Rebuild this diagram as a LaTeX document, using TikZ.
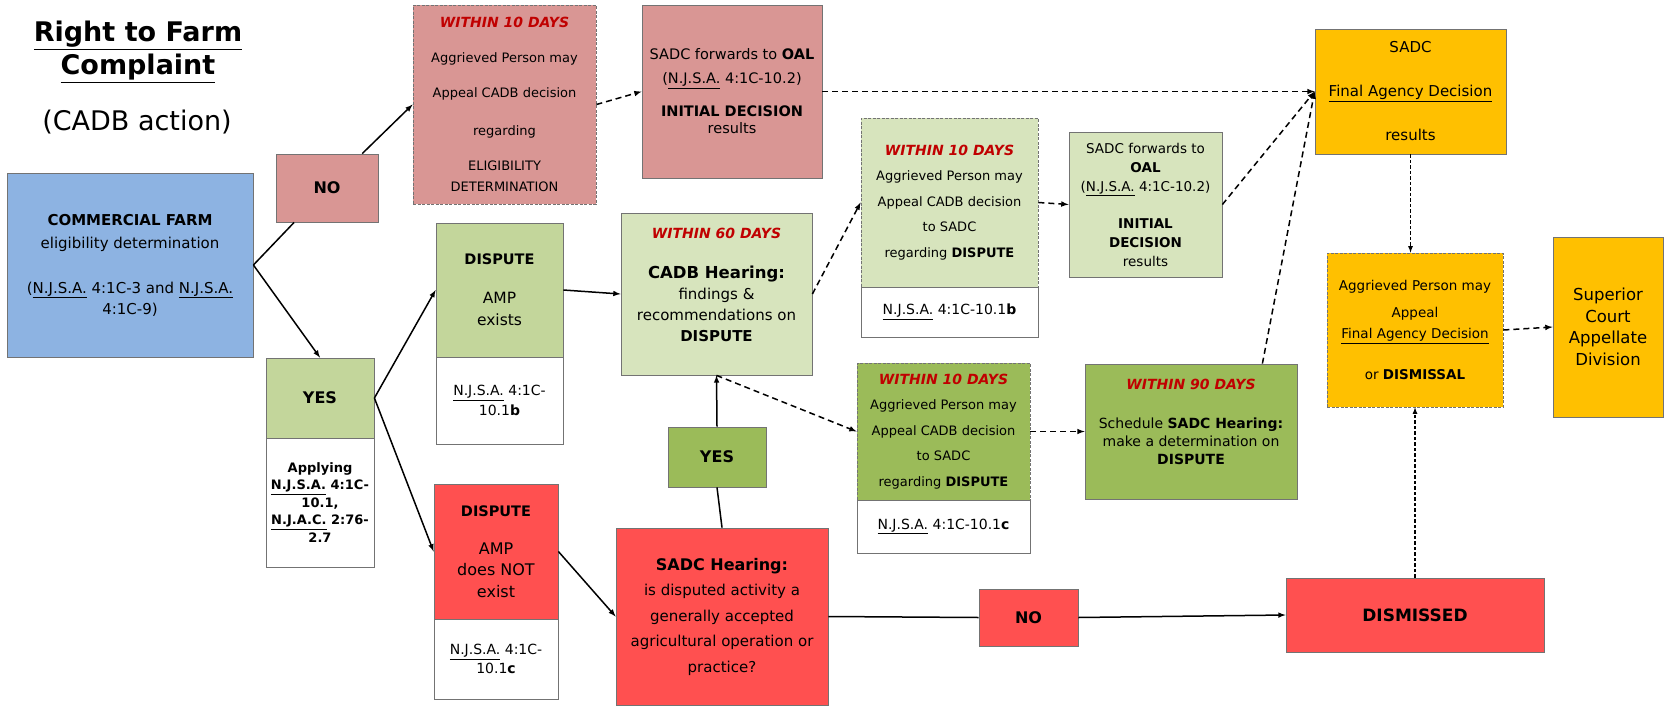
\documentclass[tikz,border=0pt]{standalone}
\usepackage{fontspec}
\setmainfont{DejaVu Sans}
\definecolor{cfblue}{HTML}{8DB3E2}
\definecolor{rose}{HTML}{D99694}
\definecolor{palegreen}{HTML}{D7E4BD}
\definecolor{sagegreen}{HTML}{C3D69B}
\definecolor{olivegreen}{HTML}{9BBB59}
\definecolor{brightred}{HTML}{FF5050}
\definecolor{amber}{HTML}{FFC000}
\definecolor{deadline}{HTML}{C00000}
\newcommand{\fs}[2]{\fontsize{#1}{#2}\selectfont}
\newcommand{\within}[1]{{\fs{14}{14}\color{deadline}\bfseries\itshape WITHIN #1 DAYS}}

\begin{document}
\begin{tikzpicture}[x=1pt, y=-1pt]
\tikzset{box/.style = {draw=black!55, line width=0.8pt, align=center, inner sep=1pt}}
\tikzset{dbox/.style = {box, dash pattern=on 3pt off 1.5pt}}
\tikzset{edge/.style = {-latex, line width=1.5pt}}
\tikzset{link/.style = {-, line width=1.5pt}}
\tikzset{dedge/.style = {-latex, line width=1.5pt, dash pattern=on 6pt off 4pt}}
\tikzset{fedge/.style = {-latex, line width=1.2pt, dash pattern=on 3.5pt off 2pt}}
\useasboundingbox (0,0) rectangle (1665,707);

% title
\node[align=center, font=\fs{27}{33}\bfseries](title) at (138,52) {\underline{Right to Farm}\\\underline{Complaint}};
\node[font=\fs{27}{33}](sub) at (137,122) {(CADB action)};

% eligibility branch
\node[box, fill=cfblue, minimum width=246pt, minimum height=184pt, font=\fs{15}{21}](cf) at (130,265) {\textbf{COMMERCIAL FARM}\\[2pt] eligibility determination\\[24pt] (\underline{N.J.S.A.} 4:1C-3 and \underline{N.J.S.A.}\\ 4:1C-9)};
\node[box, fill=rose, minimum width=102pt, minimum height=68pt, font=\fs{16}{20}\bfseries](no1) at (327,188) {NO};
\node[dbox, fill=rose, minimum width=183pt, minimum height=199pt, font=\fs{13}{35}](w10r) at (504.5,104.5) {\within{10}\\ Aggrieved Person may\\ Appeal CADB decision\\[3pt] regarding\\ ELIGIBILITY\\[-14pt] DETERMINATION};
\node[box, fill=rose, minimum width=180pt, minimum height=173pt, font=\fs{14.5}{17}](oalr) at (732,91.5) {SADC forwards to \textbf{OAL}\\[7pt] (\underline{N.J.S.A.} 4:1C-10.2)\\[16pt] \textbf{INITIAL DECISION}\\ results};
\node[box, fill=amber, minimum width=191pt, minimum height=125pt, font=\fs{15}{44}](final) at (1410.5,91.5) {SADC\\ \underline{Final Agency Decision}\\ results};

% dispute, AMP exists
\node[box, fill=sagegreen, minimum width=108pt, minimum height=80pt, font=\fs{16}{20}\bfseries](yes1) at (320,398) {YES};
\node[box, fill=white, minimum width=108pt, minimum height=129pt, font=\fs{13}{17.5}\bfseries](apply) at (320,502.5) {Applying\\ \underline{N.J.S.A.} 4:1C-\\ 10.1,\\ \underline{N.J.A.C.} 2:76-\\ 2.7};
\node[box, fill=sagegreen, minimum width=127pt, minimum height=134pt, font=\fs{15.5}{22}](ampex) at (499.5,290) {{\fs{14.5}{22}\textbf{DISPUTE}}\\[17pt] AMP\\ exists};
\node[box, fill=white, minimum width=127pt, minimum height=87pt, font=\fs{14}{20}](njsab2) at (499.5,400.5) {\underline{N.J.S.A.} 4:1C-\\ 10.1\textbf{b}};
\node[box, fill=palegreen, minimum width=191pt, minimum height=162pt, font=\fs{15}{21}](cadb) at (716.5,294) {\within{60}\\[19pt] {\fs{16.5}{21}\textbf{CADB Hearing:}}\\ findings \&\\ recommendations on\\ \textbf{DISPUTE}\\[-3pt]\mbox{}};
\node[dbox, fill=palegreen, minimum width=177pt, minimum height=169pt, font=\fs{13}{25.5}](w10t) at (949.5,202.5) {\within{10}\\ Aggrieved Person may\\ Appeal CADB decision\\ to SADC\\ regarding \textbf{DISPUTE}};
\node[box, fill=white, minimum width=177pt, minimum height=50pt, font=\fs{14}{18}](njsab1) at (949.5,312) {\underline{N.J.S.A.} 4:1C-10.1\textbf{b}};
\node[box, fill=palegreen, minimum width=153pt, minimum height=145pt, font=\fs{13.5}{19}](oalg) at (1145.5,204.5) {SADC forwards to\\ \textbf{OAL}\\ (\underline{N.J.S.A.} 4:1C-10.2)\\[18pt] \textbf{INITIAL}\\ \textbf{DECISION}\\ results};

% dispute, AMP does not exist
\node[box, fill=brightred, minimum width=124pt, minimum height=135pt, font=\fs{16}{21.5}](notex) at (496,551.5) {{\fs{14.5}{20}\textbf{DISPUTE}}\\[16pt] AMP\\ does NOT\\ exist};
\node[box, fill=white, minimum width=124pt, minimum height=80pt, font=\fs{14}{19}](njsac2) at (496,659) {\underline{N.J.S.A.} 4:1C-\\ 10.1\textbf{c}};
\node[box, fill=brightred, minimum width=212pt, minimum height=177pt, font=\fs{15}{25.5}](sadch) at (722,616.5) {{\fs{16}{20}\textbf{SADC Hearing:}}\\ is disputed activity a\\ generally accepted\\ agricultural operation or\\ practice?};
\node[box, fill=olivegreen, minimum width=98pt, minimum height=60pt, font=\fs{16}{20}\bfseries](yes2) at (717,457) {YES};
\node[dbox, fill=olivegreen, minimum width=173pt, minimum height=137pt, font=\fs{13}{25.5}](w10b) at (943.5,431.5) {\within{10}\\ Aggrieved Person may\\ Appeal CADB decision\\ to SADC\\ regarding \textbf{DISPUTE}};
\node[box, fill=white, minimum width=173pt, minimum height=53pt, font=\fs{14}{18}](njsac1) at (943.5,526.5) {\underline{N.J.S.A.} 4:1C-10.1\textbf{c}};
\node[box, fill=olivegreen, minimum width=212pt, minimum height=135pt, font=\fs{14}{18}](w90) at (1191,431.5) {\within{90}\\[21pt] Schedule \textbf{SADC Hearing:}\\ make a determination on\\ \textbf{DISPUTE}\\[1pt]\mbox{}};
\node[box, fill=brightred, minimum width=99pt, minimum height=57pt, font=\fs{16}{20}\bfseries](no2) at (1028.5,617.5) {NO};
\node[box, fill=brightred, minimum width=258pt, minimum height=74pt, font=\fs{17}{20}\bfseries](dism) at (1415,615) {DISMISSED};

% appeal
\node[dbox, fill=amber, minimum width=176pt, minimum height=154pt, font=\fs{13.5}{21}](aggr) at (1415,330) {Aggrieved Person may\\[6pt] Appeal\\ \underline{Final Agency Decision}\\[20pt] or \textbf{DISMISSAL}};
\node[box, fill=amber, minimum width=110pt, minimum height=180pt, font=\fs{16.5}{21.5}](court) at (1608,327) {Superior\\ Court\\ Appellate\\ Division};

% connectors
\draw[link] (cf.east) -- (no1);
\draw[edge] (no1) -- (w10r.west);
\draw[edge] (cf.east) -- (yes1.north);
\draw[dedge] (w10r.east) -- (oalr.west);
\draw[dedge] (oalr.east) -- (final.west);
\draw[edge] (yes1.east) -- (ampex.west);
\draw[edge] (yes1.east) -- (notex.west);
\draw[edge] (ampex.east) -- (cadb.west);
\draw[dedge] (cadb.east) -- (w10t.west);
\draw[dedge] (w10t.east) -- (oalg.west);
\draw[dedge] (oalg.east) -- (final.west);
\draw[dedge] ([xshift=-35pt]w90.north east) -- (final.west);
\draw[edge] (notex.east) -- (sadch.west);
\draw[link] (sadch.north) -- (yes2.south);
\draw[edge] (yes2.north) -- (cadb.south);
\draw[dedge] (cadb.south) -- (w10b.west);
\draw[dedge] (w10b.east) -- (w90.west);
\draw[link] (sadch.east) -- (no2.west);
\draw[edge] (no2.east) -- (dism.west);
\draw[fedge] (final.south) -- (final.south |- aggr.north);
\draw[dedge] (aggr.east) -- (court.west);
\draw[fedge] (dism.north) -- (aggr.south);
\end{tikzpicture}
\end{document}
